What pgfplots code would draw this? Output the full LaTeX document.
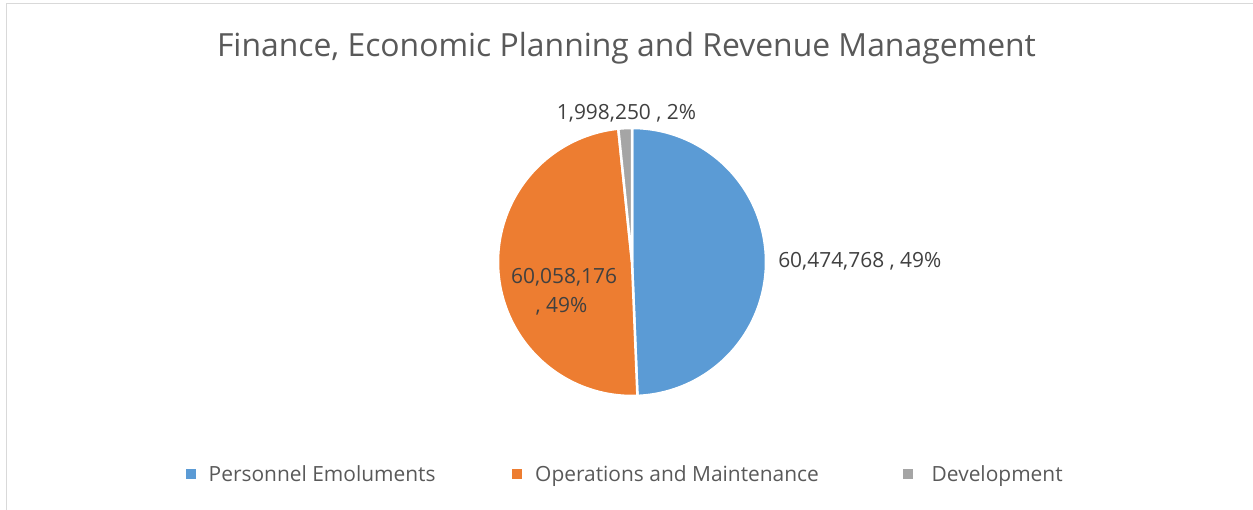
\documentclass[border=0pt]{standalone}
\usepackage{pgfplots}
\pgfplotsset{compat=1.18}
\usepackage{fontspec}
\setmainfont{Open Sans}
\definecolor{pieblue}{HTML}{5B9BD5}
\definecolor{pieorange}{HTML}{ED7D31}
\definecolor{piegray}{HTML}{A5A5A5}
\definecolor{titlegray}{HTML}{595959}
\definecolor{labelgray}{HTML}{404040}
\definecolor{framegray}{HTML}{D9D9D9}
% values (in millions)
\def\vPE{60.474768}
\def\vOM{60.058176}
\def\vDV{1.998250}
\pgfmathsetmacro\tot{\vPE+\vOM+\vDV}
\pgfmathsetmacro\fPE{\vPE/\tot}
\pgfmathsetmacro\fOM{\vOM/\tot}
\pgfmathsetmacro\fDV{\vDV/\tot}
\pgfmathsetmacro\aA{90}
\pgfmathsetmacro\aB{90-360*\fPE}
\pgfmathsetmacro\aC{\aB-360*\fOM}
\pgfmathsetmacro\aD{\aC-360*\fDV}
\begin{document}
\begin{tikzpicture}[x=1bp,y=-1bp]
\path[use as bounding box] (0,0) rectangle (1253,510);
\coordinate (pc) at (632,262);
\draw[framegray, line width=1.5bp] (6.5,510) -- (6.5,3.5) -- (1253,3.5);
\node[anchor=base, text=titlegray, font=\fontsize{32}{38}\selectfont, inner sep=0pt] at (626.5,56.7) {Finance, Economic Planning and Revenue Management};
\begin{axis}[at={(pc)}, anchor=origin, x=134bp, y=134bp,
  xmin=-1, xmax=1, ymin=-1, ymax=1, hide axis, clip=false]
\addplot[fill=pieblue, draw=white, line width=2.5bp, domain=\aB:\aA, samples=120] ({cos(x)},{sin(x)}) -- (axis cs:0,0) -- cycle;
\addplot[fill=pieorange, draw=white, line width=2.5bp, domain=\aC:\aB, samples=120] ({cos(x)},{sin(x)}) -- (axis cs:0,0) -- cycle;
\addplot[fill=piegray, draw=white, line width=2.5bp, domain=\aD:\aC, samples=10] ({cos(x)},{sin(x)}) -- (axis cs:0,0) -- cycle;
\node[anchor=base, text=labelgray, font=\fontsize{21}{25}\selectfont, inner sep=0pt] at (axis cs:-0.041,1.0597) {1,998,250 , 2\%};
\node[anchor=base west, text=labelgray, font=\fontsize{21}{25}\selectfont, inner sep=0pt] at (axis cs:1.090,-0.0396) {60,474,768 , 49\%};
\node[anchor=base, text=labelgray, font=\fontsize{21}{25}\selectfont, inner sep=0pt] at (axis cs:-0.507,-0.164) {60,058,176};
\node[anchor=base, text=labelgray, font=\fontsize{21}{25}\selectfont, inner sep=0pt] at (axis cs:-0.527,-0.3784) {, 49\%};
\end{axis}
% legend
\fill[pieblue] (186,469) rectangle (195.5,478.5);
\node[anchor=base west, text=titlegray, font=\fontsize{21}{25}\selectfont, inner sep=0pt] at (208.5,481) {Personnel Emoluments};
\fill[pieorange] (512,469) rectangle (521.5,478.5);
\node[anchor=base west, text=titlegray, font=\fontsize{21}{25}\selectfont, inner sep=0pt] at (535,481) {Operations and Maintenance};
\fill[piegray] (903,469) rectangle (912.5,478.5);
\node[anchor=base west, text=titlegray, font=\fontsize{21}{25}\selectfont, inner sep=0pt] at (931.5,481) {Development};
\end{tikzpicture}
\end{document}
